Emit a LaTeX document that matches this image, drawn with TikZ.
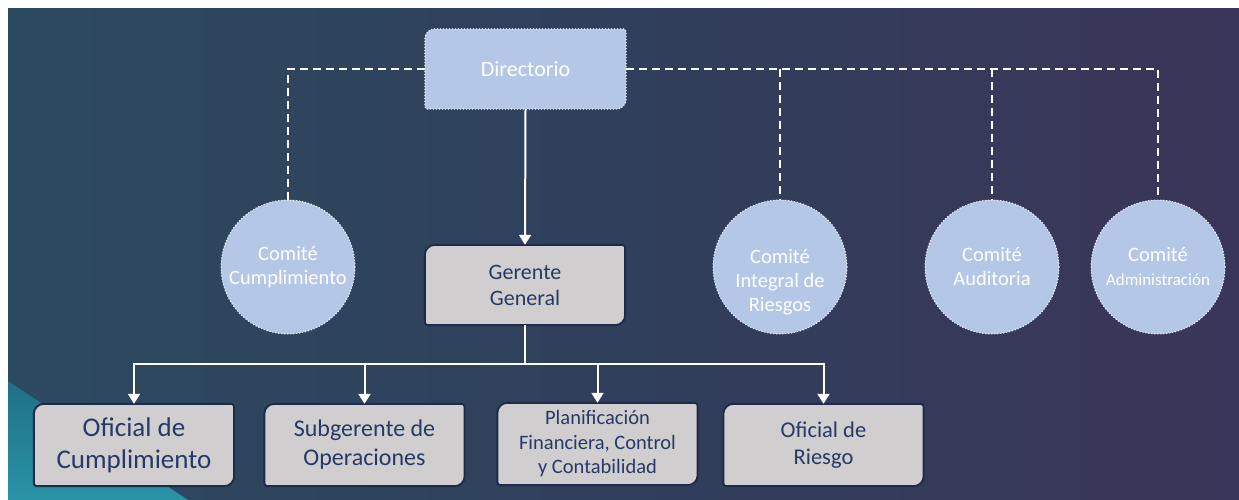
\documentclass[tikz,border=0pt]{standalone}
\usepackage{fontspec}
\setmainfont{Carlito}
\usetikzlibrary{arrows.meta,calc}
\definecolor{lblue}{HTML}{B4C7E7}
\definecolor{gfill}{HTML}{D0CECE}
\definecolor{navy}{HTML}{263A68}
\definecolor{bord}{HTML}{1E2B4A}
\definecolor{bgL}{HTML}{2C4A5F}
\definecolor{bgM}{HTML}{303F5B}
\definecolor{bgR}{HTML}{3A355A}
\definecolor{tealA}{HTML}{1F7085}
\definecolor{tealB}{HTML}{2A93A6}
\pgfdeclarelayer{bglayer}
\pgfdeclarelayer{shplayer}
\pgfsetlayers{bglayer,shplayer,main}
\newcommand{\diagshape}[2]{%
  \begin{pgfonlayer}{shplayer}
    \filldraw[#2] ([yshift=-10pt]#1.north west) arc[start angle=180,end angle=90,radius=10pt]
      -- ([xshift=-3pt]#1.north east) arc[start angle=90,end angle=0,radius=3pt]
      -- ([yshift=10pt]#1.south east) arc[start angle=0,end angle=-90,radius=10pt]
      -- ([xshift=3pt]#1.south west) arc[start angle=270,end angle=180,radius=3pt]
      -- cycle;
  \end{pgfonlayer}}
\tikzset{
  boxtxt/.style={inner sep=0pt, align=center, minimum width=200pt, minimum height=82pt, text=navy},
  dirbox/.style={inner sep=0pt, align=center, minimum width=201pt, minimum height=80pt, text=white, font=\fontsize{22}{26}\selectfont},
  comite/.style={circle, fill=lblue, draw=white, dotted, line width=1pt, minimum size=134pt, inner sep=0pt, align=center, text=white, font=\fontsize{20.5}{24}\selectfont},
  dashline/.style={draw=white, line width=2pt, dash pattern=on 8pt off 5pt},
  arr/.style={draw=white, line width=2pt, -{Triangle[width=12pt,length=10pt]}},
  plainline/.style={draw=white, line width=2pt},
  dirshape/.style={fill=lblue, draw=white, dotted, line width=1pt},
  grayshape/.style={fill=gfill, draw=bord, line width=2pt}
}
\begin{document}
\begin{tikzpicture}[x=1pt,y=1pt]
\useasboundingbox (0,0) rectangle (1239,-500);
\begin{pgfonlayer}{bglayer}
  \fill[white] (0,0) rectangle (1239,-500);
  \shade[left color=bgL, right color=bgR, middle color=bgM] (8,-9) rectangle (1239,-500);
  \shade[top color=tealA, bottom color=tealB] (8,-381) -- (188,-500) -- (8,-500) -- cycle;
\end{pgfonlayer}

\node[dirbox] (dir) at (525.5,-69) {Directorio};
\diagshape{dir}{dirshape}

\node[comite] (c1) at (288,-267) {Comité\\Cumplimiento};
\node[comite] (c2) at (780,-267) {\rule{0pt}{21pt}\\Comité\\Integral de\\Riesgos};
\node[comite] (c3) at (992,-267) {Comité\\Auditoria};
\node[comite] (c4) at (1158,-267) {Comité\\{\fontsize{17}{20}\selectfont Administración}};

\node[boxtxt, minimum height=80pt, font=\fontsize{22}{26}\selectfont] (gg) at (525,-285) {Gerente\\General};
\diagshape{gg}{grayshape}

\node[boxtxt, font=\fontsize{27}{32}\selectfont] (b1) at (134,-445) {Oficial de\\Cumplimiento};
\node[boxtxt, font=\fontsize{24}{29}\selectfont] (b2) at (364.5,-445) {Subgerente de\\Operaciones};
\node[boxtxt, font=\fontsize{20.5}{24.5}\selectfont] (b3) at (597.5,-444) {Planificación\\Financiera, Control\\y Contabilidad};
\node[boxtxt, font=\fontsize{22.5}{27}\selectfont] (b4) at (823.5,-445) {Oficial de\\Riesgo};
\foreach \b in {b1,b2,b3,b4} {\diagshape{\b}{grayshape}}

\draw[dashline] (dir.west) -| (c1.north);
\draw[dashline] (dir.east) -| (c4.north);
\draw[dashline] (dir.east -| c2.north) -- (c2.north);
\draw[dashline] (dir.east -| c3.north) -- (c3.north);

\draw[arr] (dir.south) -- (gg.north);
\coordinate (bus) at (525,-364);
\draw[plainline] (gg.south) -- (bus);
\foreach \b in {b1,b2,b3,b4} {\draw[arr] (bus) -| (\b.north);}
\end{tikzpicture}
\end{document}
